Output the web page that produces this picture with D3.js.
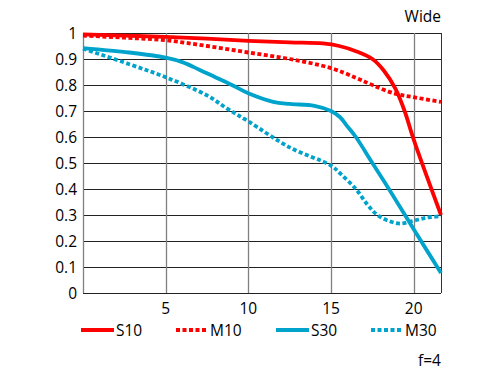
<!DOCTYPE html>
<html>
<head>
<meta charset="utf-8">
<script src="https://cdn.jsdelivr.net/npm/d3@7"></script>
<style>
  body { margin: 0; background: #fff; }
  text { font-family: "Open Sans", "Noto Sans", sans-serif; fill: #000; }
</style>
</head>
<body>
<svg></svg>
<script>
// chart size
var width = 500;
var height = 375;

// data (image height in mm vs MTF)
var s10 = [[0,0.995],[2.5,0.99],[5,0.985],[7.5,0.978],[10,0.97],[12.5,0.964],[14.5,0.96],[15.5,0.95],[16.5,0.93],[17.5,0.9],[18.2,0.855],[18.9,0.785],[19.45,0.7],[20,0.59],[21.65,0.3]];
var m10 = [[0,0.99],[2.5,0.982],[5,0.972],[7.5,0.95],[10,0.925],[12.5,0.9],[15,0.865],[16.5,0.828],[17.5,0.8],[18.8,0.768],[20,0.753],[21.65,0.735]];
var s30 = [[0,0.942],[2.8,0.925],[5,0.905],[6,0.888],[7,0.86],[8,0.83],[9,0.8],[10,0.768],[11.5,0.735],[12.5,0.727],[14,0.72],[15,0.70],[15.55,0.676],[16,0.64],[16.5,0.6],[17.5,0.5],[18.5,0.4],[20,0.245],[21.65,0.077]];
var m30 = [[0,0.94],[2.8,0.88],[5,0.83],[7.5,0.76],[8.7,0.71],[10,0.66],[12.5,0.56],[15,0.49],[15.55,0.46],[16.5,0.4],[17.2,0.34],[17.8,0.3],[18.5,0.277],[19.2,0.267],[20,0.278],[20.8,0.29],[21.65,0.295]];

var xTicks = [5, 10, 15, 20];
var yTicks = [0, 0.1, 0.2, 0.3, 0.4, 0.5, 0.6, 0.7, 0.8, 0.9, 1];

var series = [
  { name: "S10", data: s10, color: "#ff0000", dash: null },
  { name: "M10", data: m10, color: "#ff0000", dash: "4,2.5" },
  { name: "S30", data: s30, color: "#00a3cc", dash: null },
  { name: "M30", data: m30, color: "#00a3cc", dash: "4,2.5" }
];

var x = d3.scaleLinear().domain([0, 21.65]).range([83, 441]);
var y = d3.scaleLinear().domain([0, 1]).range([293, 33]);

var svg = d3.select("svg")
    .attr("width", width)
    .attr("height", height);

// horizontal grid (black)
svg.append("g").selectAll("line")
    .data(yTicks)
    .enter().append("line")
    .attr("x1", x(0))
    .attr("x2", x.range()[1])
    .attr("y1", function(d) { return Math.round(y(d)) + 0.5; })
    .attr("y2", function(d) { return Math.round(y(d)) + 0.5; })
    .style("stroke", "#222")
    .style("stroke-width", 1);

// vertical grid (grey)
svg.append("g").selectAll("line")
    .data([0].concat(xTicks))
    .enter().append("line")
    .attr("x1", function(d) { return Math.round(x(d)) + 0.5; })
    .attr("x2", function(d) { return Math.round(x(d)) + 0.5; })
    .attr("y1", y(0))
    .attr("y2", y(1))
    .style("stroke", "#808080")
    .style("stroke-width", 1.3);

// right border
svg.append("line")
    .attr("x1", x.range()[1] + 0.5)
    .attr("x2", x.range()[1] + 0.5)
    .attr("y1", y(0))
    .attr("y2", y(1))
    .style("stroke", "#333")
    .style("stroke-width", 1);

// y labels
svg.append("g").selectAll("text")
    .data(yTicks)
    .enter().append("text")
    .attr("x", 77)
    .attr("y", function(d) { return y(d) + 5.5; })
    .attr("text-anchor", "end")
    .style("font-size", "15.5px")
    .text(function(d) { return d === 0 ? "0" : d === 1 ? "1" : d3.format(".1f")(d); });

// x labels
svg.append("g").selectAll("text")
    .data(xTicks)
    .enter().append("text")
    .attr("x", function(d) { return x(d); })
    .attr("y", 313.5)
    .attr("text-anchor", "middle")
    .style("font-size", "15.5px")
    .text(function(d) { return d; });

// curves
var line = d3.line()
    .x(function(d) { return x(d[0]); })
    .y(function(d) { return y(d[1]); })
    .curve(d3.curveCatmullRom.alpha(0.5));

svg.append("g").selectAll("path")
    .data(series)
    .enter().append("path")
    .attr("d", function(d) { return line(d.data); })
    .style("fill", "none")
    .style("stroke", function(d) { return d.color; })
    .style("stroke-width", 3.8)
    .style("stroke-dasharray", function(d) { return d.dash; });

// legend
var legendX = [81, 176, 276, 371];
var leg = svg.append("g").selectAll("g")
    .data(series)
    .enter().append("g")
    .attr("transform", function(d, i) { return "translate(" + legendX[i] + ",330)"; });

leg.append("line")
    .attr("x1", 0)
    .attr("x2", function(d) { return d.dash ? 32 : 33; })
    .attr("y1", 0)
    .attr("y2", 0)
    .style("stroke", function(d) { return d.color; })
    .style("stroke-width", 3.8)
    .style("stroke-dasharray", function(d) { return d.dash; });

leg.append("text")
    .attr("x", function(d) { return d.dash ? 34 : 35; })
    .attr("y", 5.5)
    .style("font-size", "15.5px")
    .text(function(d) { return d.name; });

// title and note
svg.append("text")
    .attr("x", 441)
    .attr("y", 21.5)
    .attr("text-anchor", "end")
    .style("font-size", "15.5px")
    .text("Wide");

svg.append("text")
    .attr("x", 441)
    .attr("y", 365.5)
    .attr("text-anchor", "end")
    .style("font-size", "15.5px")
    .text("f=4");
</script>
</body>
</html>
